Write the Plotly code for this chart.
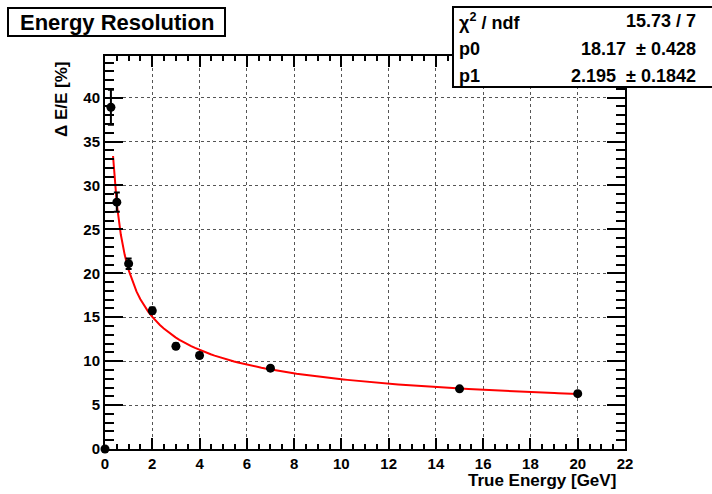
import numpy as np
import plotly.graph_objects as go

# Measured resolution points
energy = [0.0, 0.25, 0.5, 1.0, 2.0, 3.0, 4.0, 7.0, 15.0, 20.0]          # GeV
resolution = [0.0, 38.9, 28.1, 21.1, 15.75, 11.7, 10.65, 9.2, 6.85, 6.3]  # %
res_err = [0.0, 2.0, 1.1, 0.6, 0.35, 0.3, 0.3, 0.25, 0.2, 0.2]

# Fit result: sigma/E = p0/sqrt(E) + p1
p0, p0_err = 18.17, 0.428
p1, p1_err = 2.195, 0.1842
chi2, ndf = 15.73, 7
fit_range = (0.34, 20.0)

x_range = [0, 22]
y_range = [0, 44.74]

FONT = "Liberation Sans"

# plot frame in pixels (page is 712 x 494)
W, H = 712, 494
L, R, T, B = 105, 625, 56, 449


def px(xp):
    return (xp - L) / (R - L)


def py(yp):
    return (B - yp) / (B - T)


e_fit = np.linspace(fit_range[0], fit_range[1], 120)
r_fit = p0 / np.sqrt(e_fit) + p1

fig = go.Figure()

fig.add_trace(go.Scatter(
    x=e_fit, y=r_fit, mode="lines",
    line=dict(color="#ff0000", width=2),
    hoverinfo="skip", showlegend=False,
))

fig.add_trace(go.Scatter(
    x=energy, y=resolution, mode="markers",
    marker=dict(color="black", size=9),
    error_y=dict(type="data", array=res_err, color="black", thickness=2, width=3),
    cliponaxis=False, showlegend=False,
))

axis_common = dict(
    showline=True, linecolor="black", linewidth=2, mirror="allticks",
    ticks="inside", tickcolor="black", tickwidth=2,
    showgrid=True, gridcolor="#555555", griddash="dot", gridwidth=1,
    zeroline=False,
    tickfont=dict(family=FONT, size=15, color="black", weight="bold"),
)

fig.update_xaxes(
    range=x_range, dtick=2, tick0=0, ticklen=11,
    minor=dict(dtick=0.5, ticks="inside", ticklen=5, tickwidth=2, tickcolor="black", showgrid=False),
    **axis_common,
)
fig.update_yaxes(
    range=y_range, dtick=5, tick0=0, ticklen=18,
    minor=dict(dtick=1, ticks="inside", ticklen=9, tickwidth=2, tickcolor="black", showgrid=False),
    **axis_common,
)

shapes = [
    # title box
    dict(type="rect", xref="paper", yref="paper",
         x0=px(8), x1=px(225), y0=py(36), y1=py(8),
         line=dict(color="black", width=2), fillcolor="white", layer="above"),
    # statistics box
    dict(type="rect", xref="paper", yref="paper",
         x0=px(453), x1=px(720), y0=py(87), y1=py(7),
         line=dict(color="black", width=2), fillcolor="white", layer="above"),
]

nb = "\u00a0"
annotations = [
    dict(text="Energy Resolution", xref="paper", yref="paper",
         x=px(117), y=py(22), xanchor="center", yanchor="middle", showarrow=False,
         font=dict(family=FONT, size=22, color="black", weight="bold")),
    dict(text="Δ E/E [%]", xref="paper", yref="paper", textangle=-90,
         x=px(61), y=py(59), xanchor="center", yanchor="top", showarrow=False,
         font=dict(family=FONT, size=17, color="black", weight="bold")),
    dict(text="True Energy [GeV]", xref="paper", yref="paper",
         x=px(618), y=py(480), xanchor="right", yanchor="middle", showarrow=False,
         font=dict(family=FONT, size=17, color="black", weight="bold")),
]

stat_rows = [
    ("χ<sup>2</sup> / ndf", f"{chi2:.2f} / {ndf}", 21),
    ("p0", f"{p0:.2f}{nb}{nb}± {p0_err:.3f}", 49),
    ("p1", f"{p1:.3f}{nb}{nb}± {p1_err:.4f}", 76),
]
for name, val, yp in stat_rows:
    annotations.append(dict(text=name, xref="paper", yref="paper",
                            x=px(457), y=py(yp), xanchor="left", yanchor="middle",
                            showarrow=False,
                            font=dict(family=FONT, size=18, color="black", weight="bold")))
    annotations.append(dict(text=val, xref="paper", yref="paper",
                            x=px(698), y=py(yp), xanchor="right", yanchor="middle",
                            showarrow=False,
                            font=dict(family=FONT, size=18, color="black", weight="bold")))

fig.update_layout(
    width=W, height=H,
    margin=dict(l=L, r=W - R, t=T, b=H - B),
    paper_bgcolor="white", plot_bgcolor="white",
    shapes=shapes, annotations=annotations,
    showlegend=False,
)

fig.write_html("out.html")
